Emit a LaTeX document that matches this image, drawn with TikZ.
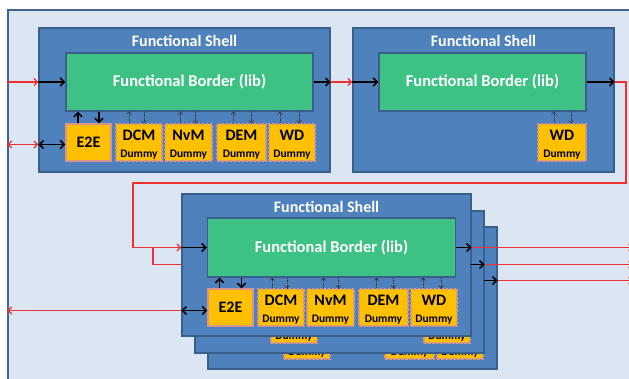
\documentclass[tikz,border=0pt]{standalone}
\usepackage{fontspec}
\setmainfont{Carlito}
\usetikzlibrary{arrows.meta}

\definecolor{panelfill}{HTML}{DCE6F2}
\definecolor{panelline}{HTML}{41648F}
\definecolor{shellfill}{HTML}{4F81BD}
\definecolor{shellline}{HTML}{3A5F8B}
\definecolor{bordergreen}{HTML}{3EC184}
\definecolor{compfill}{HTML}{FFC000}
\definecolor{compline}{HTML}{D8958F}
\definecolor{linkred}{HTML}{F03030}

\newcommand\bigfont{\fontsize{16}{18}\selectfont\bfseries}
\newcommand\smallfont{\fontsize{11.5}{13}\selectfont\bfseries}
% component label: name on top, "Dummy" below, block set a little low
\newcommand\comptext[1]{{\bigfont\rule{0pt}{14.5pt}#1}\\[-1pt]{\smallfont Dummy}}

\begin{document}
\begin{tikzpicture}[x=1pt,y=-1pt,
  panel/.style={draw=panelline,fill=panelfill,line width=1.3pt,inner sep=0pt},
  shell/.style={draw=shellline,fill=shellfill,line width=1.3pt,inner sep=0pt},
  shelltitle/.style={text=white,font=\bigfont,inner sep=0pt},
  fborder/.style={draw=shellline,fill=bordergreen,line width=1.3pt,inner sep=0pt,
    text=white,font=\fontsize{16.5}{18}\selectfont\bfseries},
  comp/.style={draw=compline,fill=compfill,line width=1.4pt,inner sep=0pt,
    minimum height=37,text=black,font=\bigfont,align=center},
  dummy/.style={comp,dash pattern=on 2.5pt off 1.5pt},
  blackarrow/.style={draw=black,line width=1.6pt,-{Straight Barb[length=4pt,width=8pt]}},
  blackboth/.style={draw=black,line width=1.6pt,{Straight Barb[length=4pt,width=8pt]}-{Straight Barb[length=4pt,width=8pt]}},
  dasharrow/.style={draw=black!80,line width=0.5pt,dash pattern=on 1.5pt off 1pt,
    -{Straight Barb[length=2.5pt,width=5pt]}},
  redline/.style={draw=linkred,line width=1.3pt},
  redarrow/.style={redline,-{Straight Barb[length=3.5pt,width=7pt]}},
  redboth/.style={redline,{Straight Barb[length=3.5pt,width=7pt]}-{Straight Barb[length=3.5pt,width=7pt]}}]

\useasboundingbox (0,0) rectangle (629,379);
\fill[white] (0,0) rectangle (629,379);

% light background panel, running off the right and bottom
\node[panel,minimum width=640,minimum height=390] (panel) at (328,205) {};

% ---------------- first functional shell ----------------
\node[shell,minimum width=291,minimum height=144] (s1) at (184.5,100) {};
\node[shelltitle] (t1) at ([yshift=-14pt]s1.north) {Functional Shell};
\node[fborder,minimum width=247,minimum height=58] (b1) at (189.5,82) {Functional Border (lib)};
\node[comp,minimum width=45] (e1) at (88.5,142.5) {E2E};
\node[dummy,minimum width=46] (d1) at (139,142.5) {\comptext{DCM}};
\node[dummy,minimum width=47] (n1) at (188.5,142.5) {\comptext{NvM}};
\node[dummy,minimum width=49] (m1) at (241.5,142.5) {\comptext{DEM}};
\node[dummy,minimum width=46] (w1) at (292,142.5) {\comptext{WD}};

\draw[blackarrow] ([xshift=-10.5pt]e1.north) -- ([xshift=-10.5pt]e1.north |- b1.south);
\draw[blackarrow] ([xshift=10.5pt]e1.north |- b1.south) -- ([xshift=10.5pt]e1.north);
\foreach \c/\u/\d in {d1/-10/5, n1/-8/7, m1/-8/10, w1/-12/7}{
  \draw[dasharrow] ([xshift=\u pt]\c.north) -- ([xshift=\u pt]\c.north |- b1.south);
  \draw[dasharrow] ([xshift=\d pt]\c.north |- b1.south) -- ([xshift=\d pt]\c.north);
}
\draw[blackarrow] (b1.west -| s1.west) -- (b1.west);
\draw[blackarrow] (b1.east) -- (b1.east -| s1.east);
\draw[blackboth] ([yshift=-2pt]e1.west -| s1.west) -- ([yshift=-2pt]e1.west);
\draw[redarrow] (b1.west -| panel.west) -- (b1.west -| s1.west);
\draw[redboth] ([yshift=-2pt]e1.west -| panel.west) -- ([yshift=-2pt]e1.west -| s1.west);

% ---------------- second functional shell ----------------
\node[shell,minimum width=261,minimum height=144] (s2) at (483.5,100) {};
\node[shelltitle] (t2) at ([yshift=-14pt]s2.north) {Functional Shell};
\node[fborder,minimum width=207,minimum height=58] (b2) at (482.5,82) {Functional Border (lib)};
\node[dummy,minimum width=48] (w2) at (562,142.5) {\comptext{WD}};
\draw[dasharrow] ([xshift=-8pt]w2.north) -- ([xshift=-8pt]w2.north |- b2.south);
\draw[dasharrow] ([xshift=9pt]w2.north |- b2.south) -- ([xshift=9pt]w2.north);
\draw[redarrow] (b1.east -| s1.east) -- (b2.west -| s2.west);
\draw[blackarrow] (b2.west -| s2.west) -- (b2.west);
\draw[blackarrow] (b2.east) -- (b2.east -| s2.east);

% ---------------- stacked functional shells ----------------
\coordinate (loopR) at (626,183);
\coordinate (loopL) at (133,183);
\coordinate (split) at (153,247.5);
\coordinate (ob) at (471,264.5);
\coordinate (oc) at (484,280.5);
\coordinate (edgeR) at (633,0);

% rear shell
\node[shell,minimum width=289,minimum height=142] (sc) at (352.5,298) {};
\node[dummy,minimum width=46] (dc) at (307,340.5) {\comptext{\vphantom{DCM}}};
\node[dummy,minimum width=49] (mc) at (409.5,340.5) {\comptext{\vphantom{DEM}}};
\node[dummy,minimum width=46] (wc) at (460,340.5) {\comptext{\vphantom{WD}}};

% middle shell
\node[shell,minimum width=289,minimum height=142] (sb) at (339.5,282) {};
\node[dummy,minimum width=46] (db) at (294,324.5) {\comptext{\vphantom{DCM}}};
\node[dummy,minimum width=46] (wb) at (447,324.5) {\comptext{\vphantom{WD}}};
\draw[blackarrow] (oc) -- (oc -| sc.east);

\draw[redline] (split) |- (sb.west |- ob);

% front shell
\node[shell,minimum width=289,minimum height=142] (s3) at (326.5,265) {};
\node[shelltitle] (t3) at ([yshift=-14pt]s3.north) {Functional Shell};
\node[fborder,minimum width=248,minimum height=59] (b3) at (331.5,247.5) {Functional Border (lib)};
\node[comp,minimum width=45] (e3) at (230.5,307.5) {E2E};
\node[dummy,minimum width=46] (d3) at (281,307.5) {\comptext{DCM}};
\node[dummy,minimum width=47] (n3) at (330.5,307.5) {\comptext{NvM}};
\node[dummy,minimum width=49] (m3) at (383.5,307.5) {\comptext{DEM}};
\node[dummy,minimum width=46] (w3) at (434,307.5) {\comptext{WD}};

\draw[blackarrow] ([xshift=-11pt]e3.north) -- ([xshift=-11pt]e3.north |- b3.south);
\draw[blackarrow] ([xshift=11pt]e3.north |- b3.south) -- ([xshift=11pt]e3.north);
\foreach \c/\u/\d in {d3/-9/6, n3/-7/8, m3/-7/10, w3/-11/7}{
  \draw[dasharrow] ([xshift=\u pt]\c.north) -- ([xshift=\u pt]\c.north |- b3.south);
  \draw[dasharrow] ([xshift=\d pt]\c.north |- b3.south) -- ([xshift=\d pt]\c.north);
}
\draw[blackarrow] (b3.west -| s3.west) -- (b3.west);
\draw[blackarrow] (b3.east) -- (b3.east -| s3.east);
\draw[blackboth] ([yshift=-3pt]e3.west -| s3.west) -- ([yshift=-3pt]e3.west);
\draw[blackarrow] (ob) -- (ob -| sb.east);

% red links of the stacked shells
\draw[redarrow] (b2.east -| s2.east) -| (loopR) -- (loopL) |- (b3.west -| s3.west);
\draw[redarrow] ([yshift=-3pt]e3.west -| s3.west) -- ([yshift=-3pt]e3.west -| panel.west);
\draw[redarrow] (b3.east -| s3.east) -- (b3.east -| edgeR);
\draw[redarrow] (ob -| sb.east) -- (ob -| edgeR);
\draw[redarrow] (oc -| sc.east) -- (oc -| edgeR);
\end{tikzpicture}
\end{document}
